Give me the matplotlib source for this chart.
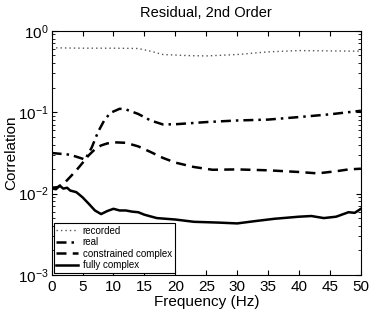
import matplotlib
matplotlib.use("Agg")
import matplotlib.pyplot as plt
import numpy as np

plt.rcParams['font.family'] = ['Liberation Sans', 'DejaVu Sans']

# Data
rec_f = [0, 5, 10, 14, 16, 18, 22, 25, 30, 35, 40, 45, 50]
rec_v = [0.617, 0.61, 0.61, 0.605, 0.56, 0.51, 0.495, 0.49, 0.51, 0.55, 0.57, 0.565, 0.56]

real_f = [0, 3, 5, 5.4, 6.5, 7.5, 8.5, 9.5, 11, 12, 14, 16, 18, 20, 25, 30, 35, 40, 45, 50]
real_v = [0.0315, 0.030, 0.0268, 0.026, 0.037, 0.057, 0.079, 0.098, 0.11, 0.108, 0.095, 0.079,
          0.0706, 0.071, 0.0755, 0.079, 0.081, 0.087, 0.094, 0.104]

cc_f = [0, 1, 2, 3, 4, 5, 6, 7, 8, 9, 10.5, 12, 14, 16, 18, 20, 23, 26, 30, 35, 40, 43, 46, 48, 50]
cc_v = [0.0118, 0.012, 0.0133, 0.016, 0.0193, 0.0238, 0.0295, 0.035, 0.039, 0.0413, 0.0425, 0.042,
        0.038, 0.0324, 0.0274, 0.024, 0.0212, 0.0196, 0.0198, 0.0193, 0.0184, 0.0177, 0.0188,
        0.0198, 0.0202]

fc_f = [0, 0.7, 1.3, 1.9, 2.5, 3, 4, 5, 6, 7, 8, 9, 10, 11, 12, 13, 14, 15, 17, 20, 23, 27, 30,
        33, 36, 40, 42, 44, 46, 48, 49, 50]
fc_v = [0.0116, 0.0113, 0.0125, 0.0115, 0.0118, 0.0109, 0.0104, 0.0090, 0.0075, 0.0062, 0.0056,
        0.0061, 0.0065, 0.0062, 0.0062, 0.0060, 0.0059, 0.0055, 0.0050, 0.0048, 0.0045, 0.0044,
        0.0043, 0.0046, 0.0049, 0.0052, 0.0053, 0.0050, 0.0052, 0.0059, 0.0058, 0.0065]

labels = ['recorded', 'real', 'constrained complex', 'fully complex']
x_ticks = [0, 5, 10, 15, 20, 25, 30, 35, 40, 45, 50]

fig = plt.figure(figsize=(3.74, 3.15), dpi=100)
ax = fig.add_axes([0.138, 0.127, 0.827, 0.7755])

ax.plot(rec_f, rec_v, linestyle=(0, (1, 2.2)), color='#555555', lw=1.0, label=labels[0])
ax.plot(real_f, real_v, linestyle=(0, (4, 2, 1, 2)), color='black', lw=1.8, label=labels[1])
ax.plot(cc_f, cc_v, linestyle=(0, (4, 2.5)), color='black', lw=1.8, label=labels[2])
ax.plot(fc_f, fc_v, linestyle='-', color='black', lw=1.8, label=labels[3])

ax.set_yscale('log')
ax.set_xlim(0, 50)
ax.set_ylim(1e-3, 1)
ax.set_xticks(x_ticks)
ax.tick_params(which='both', direction='in', top=True, right=True, labelsize=11)
ax.tick_params(axis='y', which='major', pad=2)
ax.tick_params(which='major', length=3.5)
ax.tick_params(which='minor', length=2)
for s in ax.spines.values():
    s.set_linewidth(0.8)

ax.set_title('Residual, 2nd Order', fontsize=10.5, pad=10)
ax.set_xlabel('Frequency (Hz)', fontsize=11, labelpad=1)
ax.set_ylabel('Correlation', fontsize=11, labelpad=0)

leg = ax.legend(loc='lower left', fontsize=7, handlelength=2.2, handletextpad=0.5,
                borderpad=0.3, labelspacing=0.15, borderaxespad=0.2, fancybox=False,
                framealpha=1, edgecolor='black')
leg.get_frame().set_linewidth(0.8)

fig.savefig('out.png', dpi=100)
